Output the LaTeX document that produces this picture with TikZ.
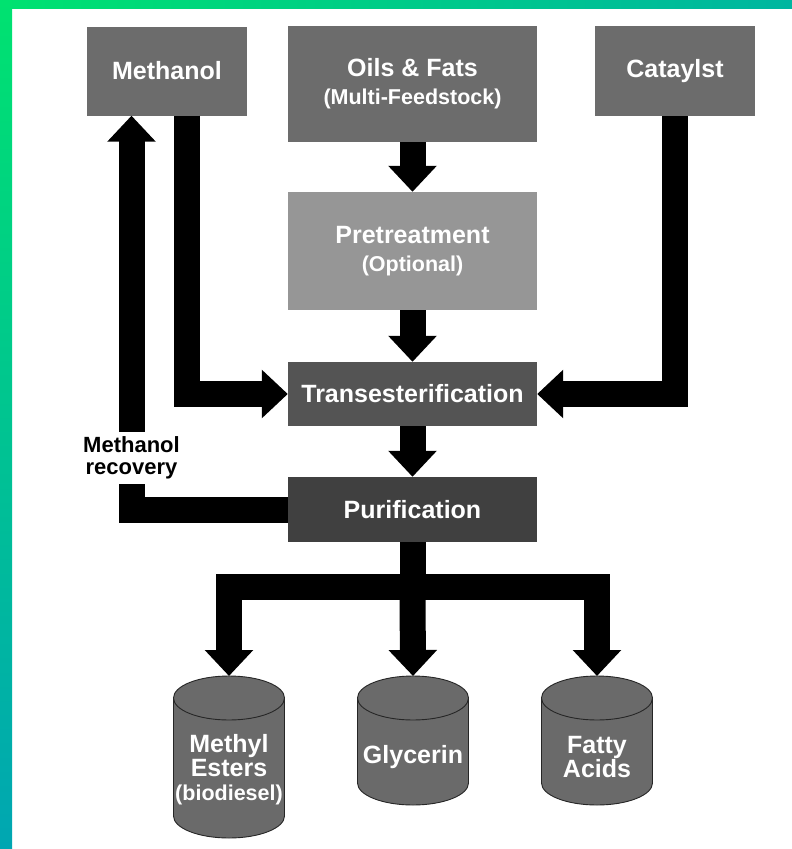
\documentclass[tikz,border=0pt]{standalone}
\usepackage{fontspec}
\setmainfont{Liberation Sans}
\usetikzlibrary{arrows.meta}

\definecolor{feedgray}{RGB}{108,108,108}
\definecolor{pregray}{RGB}{150,150,150}
\definecolor{transgray}{RGB}{84,84,84}
\definecolor{purigray}{RGB}{64,64,64}
\definecolor{tankgray}{RGB}{106,106,106}
\definecolor{edgegreen}{RGB}{0,226,112}
\definecolor{edgeteal}{RGB}{0,182,160}
\definecolor{edgeblue}{RGB}{0,166,178}

\newcommand{\subline}[1]{{\fontsize{21.5}{28}\selectfont #1}}
% tank: name, centre x, centre y of the bottom rim
\newcommand{\tank}[3]{%
  \filldraw[fill=tankgray,draw=black!85,line width=0.9pt] (#2-55.5,698) -- (#2-55.5,#3) arc[start angle=180,end angle=0,x radius=55.5,y radius=22] -- (#2+55.5,698) arc[start angle=0,end angle=-180,x radius=55.5,y radius=22] -- cycle;
  \draw[black!85,line width=0.9pt] (#2-55.5,698) arc[start angle=180,end angle=0,x radius=55.5,y radius=22];
  \coordinate (#1) at (#2,676);
}

\begin{document}
\begin{tikzpicture}[x=1pt,y=-1pt,
  box/.style={text=white,font=\bfseries\fontsize{25}{28}\selectfont,align=center,inner sep=0pt},
  tanktext/.style={text=white,font=\bfseries\fontsize{25}{24}\selectfont,align=center,inner sep=0pt},
  flow/.style={line width=26pt,line join=miter,-{Triangle[length=26pt,width=47pt]}}]
\useasboundingbox (0,0) rectangle (792,849);
\fill[white] (0,0) rectangle (792,849);
\shade[left color=edgegreen,right color=edgeteal] (0,0) rectangle (792,8);
\shade[top color=edgegreen,bottom color=edgeblue] (0,0) rectangle (12,849);

\node[box,fill=feedgray,minimum width=160pt,minimum height=89pt] (meth) at (167,71) {Methanol};
\node[box,fill=feedgray,minimum width=249pt,minimum height=116pt] (oils) at (412.5,84) {Oils \& Fats\\\subline{(Multi-Feedstock)}};
\node[box,fill=feedgray,minimum width=160pt,minimum height=90pt] (cat) at (675,71) {Cataylst};
\node[box,fill=pregray,minimum width=249pt,minimum height=118pt] (pre) at (412.5,251) {Pretreatment\\\subline{(Optional)}};
\node[box,fill=transgray,minimum width=249pt,minimum height=64pt] (trans) at (412.5,394) {Transesterification};
\node[box,fill=purigray,minimum width=249pt,minimum height=65pt] (puri) at (412.5,509.5) {Purification};
\node[font=\bfseries\fontsize{22}{22}\selectfont,align=center,inner sep=0pt,minimum height=52pt] (rec) at (131.5,458) {Methanol\\recovery};

\tank{me}{229}{816}
\tank{gl}{413}{783}
\tank{fa}{597}{783}
\node[tanktext] (metxt) at (229,770) {Methyl\\Esters\\\subline{(biodiesel)}};
\node[tanktext] (gltxt) at (413,757) {Glycerin};
\node[tanktext] (fatxt) at (597,757) {Fatty\\Acids};

\draw[flow] (oils) -- (pre);
\draw[flow] (pre) -- (trans);
\draw[flow] (trans) -- (puri);
\draw[flow] ([xshift=20pt]meth.south) |- (trans.west);
\draw[flow] (cat.south) |- (trans.east);
\draw[flow,-] (puri.west) -| (rec.south);
\draw[flow] (rec.north) -- (rec.north |- meth.south);
\draw[flow,-] (puri.south) -- ++(0,45) coordinate (hub);
\draw[flow] (hub) -| (me);
\draw[flow] (hub) -- (gl);
\draw[flow] (hub) -| (fa);
\end{tikzpicture}
\end{document}
